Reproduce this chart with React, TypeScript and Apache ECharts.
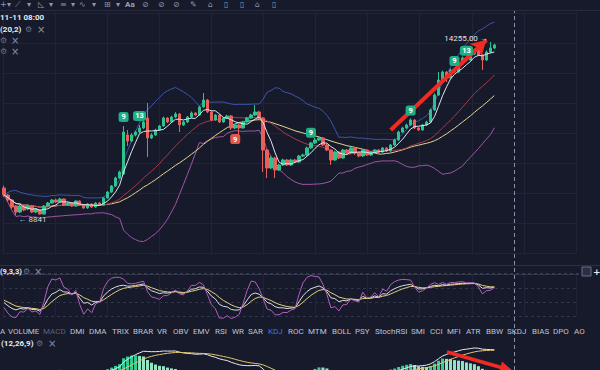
import React, { useEffect, useRef } from "react";
import * as echarts from "echarts";

// ---------- data ----------
const OPEN = [
  9686, 9467, 9310, 9122, 8934, 9122, 9028, 9122, 8934, 8997,
  8871, 9122, 9216, 9310, 9247, 9341, 9153, 9216, 9122, 9279,
  9153, 9059, 9184, 9091, 9216, 9153, 9372, 9560, 9748, 9999,
  10124, 11345, 11157, 11345, 11438, 11564, 11877, 11251, 11345, 11501,
  11626, 11877, 11752, 11908, 12002, 11658, 11752, 11908, 12033, 11970,
  12221, 12440, 12064, 11814, 11970, 11752, 11877, 11939, 11564, 11658,
  11564, 11752, 11877, 11970, 12064, 11877, 10875, 10312, 10625, 10249,
  10406, 10562, 10406, 10562, 10499, 10687, 10719, 10938, 11094, 11188,
  11251, 11031, 10875, 10562, 10813, 10625, 10875, 10781, 10938, 10781,
  10687, 10875, 10719, 10813, 10875, 10813, 10938, 10844, 11031, 11188,
  11438, 11564, 11658, 11814, 11564, 11501, 11658, 11752, 12127, 12596,
  13066, 13316, 13129, 13379, 13316, 13567, 13755, 13692, 13880, 14005,
  13849, 13692, 13942, 14068,
];
const CLOSE = [
  9467, 9310, 9091, 8934, 9122, 8997, 9122, 8934, 9028, 8871,
  9122, 9216, 9310, 9247, 9341, 9153, 9216, 9122, 9279, 9153,
  9059, 9184, 9091, 9216, 9153, 9372, 9560, 9748, 9999, 10186,
  11438, 11157, 11345, 11438, 11564, 11752, 11251, 11345, 11501, 11626,
  11877, 11752, 11908, 12002, 11658, 11752, 11908, 12033, 11970, 12221,
  12440, 12064, 11814, 11970, 11752, 11877, 11939, 11564, 11658, 11564,
  11752, 11877, 11970, 12064, 11877, 10875, 10312, 10625, 10249, 10406,
  10562, 10406, 10562, 10499, 10687, 10719, 10938, 11094, 11188, 11251,
  11031, 10875, 10562, 10813, 10625, 10875, 10781, 10938, 10781, 10687,
  10875, 10719, 10813, 10875, 10813, 10938, 10844, 11031, 11188, 11438,
  11564, 11658, 11814, 11564, 11501, 11658, 11752, 12127, 12596, 13066,
  13316, 13129, 13379, 13316, 13567, 13755, 13692, 13880, 14005, 13849,
  13692, 13942, 14068, 14162,
];
const LOW = [
  9400, 9250, 9040, 8841, 8900, 8960, 8990, 8900, 8900, 8850,
  8860, 9100, 9190, 9220, 9230, 9120, 9130, 9100, 9100, 9130,
  9030, 9040, 9060, 9070, 9130, 9140, 9350, 9540, 9720, 9980,
  10090, 11000, 11120, 11300, 11400, 11530, 10656, 11220, 11320, 11480,
  11600, 11720, 11730, 11880, 11438, 11630, 11720, 11880, 11940, 11950,
  12200, 12030, 11780, 11790, 11720, 11730, 11850, 11500, 11530, 11345,
  11540, 11730, 11850, 11940, 11840, 10186, 9999, 10280, 9999, 10220,
  10380, 10380, 10380, 10470, 10470, 10660, 10700, 10910, 11060, 11160,
  11000, 10840, 10406, 10530, 10590, 10600, 10750, 10760, 10720, 10650,
  10660, 10690, 10690, 10790, 10780, 10790, 10810, 10820, 11000, 11160,
  11410, 11540, 11630, 11530, 11470, 11480, 11630, 11730, 12100, 12570,
  13030, 13003, 13100, 13280, 13290, 13540, 13650, 13670, 13850, 13810,
  13379, 13660, 13900, 14030,
];
const HIGH = [
  9760, 9500, 9340, 9150, 9160, 9150, 9170, 9140, 9060, 9020,
  9150, 9250, 9340, 9350, 9380, 9360, 9240, 9240, 9300, 9300,
  9180, 9210, 9200, 9240, 9250, 9400, 9590, 9780, 10040, 10230,
  11626, 11501, 11400, 11480, 11658, 11790, 12346, 11400, 11540, 11660,
  11920, 11900, 11950, 12060, 12030, 11790, 11940, 12080, 12060, 12260,
  12659, 12470, 12090, 12000, 12000, 11900, 11980, 11970, 11690, 11690,
  11790, 11910, 12010, 12283, 12100, 11900, 10900, 10680, 10660, 10440,
  10600, 10590, 10600, 10590, 10720, 10760, 10980, 11130, 11250, 11290,
  11280, 11060, 10900, 10850, 10840, 10910, 10900, 10990, 10960, 10800,
  10910, 10900, 10840, 10900, 10900, 10960, 10960, 11060, 11230, 11480,
  11600, 11700, 11860, 11840, 11590, 11690, 11790, 12170, 12650, 13316,
  13360, 13340, 13420, 13410, 13620, 13800, 13790, 13930, 14050, 14030,
  13870, 13990, 14255, 14200,
];

// TD-sequential style count labels
const TD_INDEX = [30, 34, 58, 77, 102, 113, 116];
const TD_TEXT = ["9", "13", "9", "9", "9", "9", "13"];
const TD_SIDE = ["up", "up", "down", "up", "up", "up", "up"];

const HIGH_LABEL = "14255.00 →";
const LOW_LABEL = "← 8841";
const HIGH_INDEX = 122;
const LOW_INDEX = 3;

// hand-drawn trend arrow: [index, price] -> [index, price]
const ARROW_FROM = [97, 11501];
const ARROW_TO = [121, 14318];

const TAB_NAMES = [
  "A", "VOLUME", "MACD", "DMI", "DMA", "TRIX", "BRAR", "VR", "OBV", "EMV", "RSI",
  "WR", "SAR", "KDJ", "ROC", "MTM", "BOLL", "PSY", "StochRSI", "SMI", "CCI",
  "MFI", "ATR", "BBW", "SKDJ", "BIAS", "DPO", "AO",
];

const CATEGORY_COUNT = 150;
const NOW_INDEX = 128;

// ---------- layout constants ----------
const TAB_X = [
  0, 8, 43, 70, 89, 112, 133, 157, 173, 193, 215, 232, 248, 268, 288, 308, 332,
  355, 375, 411, 430, 447, 466, 486, 507, 532, 553, 574,
];
const TD_OFFSET = [-9, -9, 10, -9, -8, -8, -6];

// ---------- indicator helpers ----------
function sma(arr: number[], n: number) {
  return arr.map((_, i) => {
    const w = arr.slice(Math.max(0, i - n + 1), i + 1);
    return w.reduce((a, b) => a + b, 0) / w.length;
  });
}
function boll(arr: number[], n: number, k: number) {
  const up: number[] = [];
  const lo: number[] = [];
  arr.forEach((_, i) => {
    const w = arr.slice(Math.max(0, i - n + 1), i + 1);
    const m = w.reduce((a, b) => a + b, 0) / w.length;
    const sd = Math.sqrt(w.reduce((a, b) => a + (b - m) * (b - m), 0) / w.length);
    up.push(m + k * sd);
    lo.push(m - k * sd);
  });
  return { up, lo };
}
function ema(arr: number[], n: number) {
  const a = 2 / (n + 1);
  const out: number[] = [];
  arr.forEach((v, i) => out.push(i === 0 ? v : out[i - 1] + a * (v - out[i - 1])));
  return out;
}

export default function App() {
  const ref = useRef<HTMLDivElement>(null);

  useEffect(() => {
    if (!ref.current) return;
    const chart = echarts.init(ref.current, undefined, { renderer: "svg" });

    const cats = Array.from({ length: CATEGORY_COUNT }, (_, i) => String(i));
    const candles = OPEN.map((o, i) => [o, CLOSE[i], LOW[i], HIGH[i]]);
    const ma5 = sma(CLOSE, 5);
    const ma20 = sma(CLOSE, 20);
    const ma30 = sma(CLOSE, 30);
    const bb = boll(CLOSE, 20, 2);

    // KDJ(9,3,3)
    const kArr: number[] = [];
    const dArr: number[] = [];
    const jArr: number[] = [];
    let K = 50;
    let D = 50;
    CLOSE.forEach((c, i) => {
      const s = Math.max(0, i - 8);
      const hh = Math.max(...HIGH.slice(s, i + 1));
      const ll = Math.min(...LOW.slice(s, i + 1));
      const rsv = hh === ll ? 50 : ((c - ll) / (hh - ll)) * 100;
      K = (2 * K + rsv) / 3;
      D = (2 * D + K) / 3;
      kArr.push(K);
      dArr.push(D);
      jArr.push(3 * K - 2 * D);
    });

    // MACD(12,26,9)
    const e12 = ema(CLOSE, 12);
    const e26 = ema(CLOSE, 26);
    const dif = e12.map((v, i) => v - e26[i]);
    const dea = ema(dif, 9);
    const hist = dif.map((v, i) => 2 * (v - dea[i]));
    const maxDif = Math.max(...dif);
    // the panel is cut by the window: only the upper part of the range shows
    const macdMax = maxDif * 1.333;
    const macdMin = maxDif * 0.0833;

    const UP = "#2fc28f";
    const DOWN = "#e8605c";
    const GRID_LINE = "#1f2438";

    const tdPoints = TD_INDEX.map((idx, k) => {
      const up = TD_SIDE[k] === "up";
      return {
        coord: [idx, up ? HIGH[idx] : LOW[idx]],
        symbol: "roundRect",
        symbolSize: [TD_TEXT[k].length > 1 ? 13 : 10, 10],
        symbolOffset: [0, TD_OFFSET[k]],
        itemStyle: { color: up ? "#1fae86" : "#e0574f" },
        label: {
          show: true,
          position: "inside",
          formatter: TD_TEXT[k],
          color: "#ffffff",
          fontSize: 7.5,
          fontWeight: "bold",
        },
      };
    });

    const hiddenCat = (gridIndex: number) => ({
      type: "category",
      gridIndex,
      data: cats,
      show: false,
      boundaryGap: true,
    });
    const bgAxis = (gridIndex: number, max: number, dashed: boolean) => ({
      type: "value",
      gridIndex,
      min: 0,
      max,
      interval: 1,
      axisLine: { show: false },
      axisTick: { show: false },
      axisLabel: { show: false },
      splitLine: {
        show: true,
        lineStyle: dashed
          ? { color: "#30354b", type: [3, 3], width: 1 }
          : { color: GRID_LINE, width: 1 },
      },
    });

    const txt = (x: number, y: number, text: string, fill: string, font: string, z = 50) => ({
      type: "text",
      x,
      y,
      z,
      silent: true,
      style: { text, fill, font, verticalAlign: "middle" },
    });

    const ICON = "8px 'DejaVu Sans'";
    const toolbar: [number, string][] = [
      [0, "+"], [7, "▾"], [15, "⟋"], [27, "▾"], [38, "◺"], [49, "▾"], [60, "≡"],
      [71, "▾"], [79, "∿"], [92, "▾"], [104, "⊞"], [116, "▾"], [142, "⊘"],
      [158, "⊘"], [173, "⊘"], [190, "✎"], [208, "⌂"], [224, "▯"], [240, "▯"],
      [255, "⌂"], [272, "▯"],
    ];

    const graphics: any[] = [
      ...toolbar.map(([x, t]) => txt(x, 4.5, t, "#9096ab", ICON)),
      txt(125, 4.5, "Aa", "#9da3b7", "bold 8px Roboto"),
      { type: "line", z: 1, silent: true, shape: { x1: 0, y1: 10.5, x2: 600, y2: 10.5 }, style: { stroke: "#262b40", lineWidth: 1 } },
      txt(0, 17, "11-11 08:00", "#e8eaf0", "bold 8px Roboto"),
      txt(0, 29, "(20,2)", "#e8eaf0", "bold 8px Roboto"),
      txt(25, 29, "⚙", "#6c7288", ICON),
      txt(37, 29, "×", "#8a90a4", "10px 'DejaVu Sans'"),
      txt(0, 40, "⚙", "#6c7288", ICON),
      txt(11, 40, "×", "#8a90a4", "10px 'DejaVu Sans'"),
      txt(0, 51, "⚙", "#6c7288", ICON),
      txt(11, 51, "×", "#8a90a4", "10px 'DejaVu Sans'"),
      // KDJ panel
      { type: "line", z: 1, silent: true, shape: { x1: 0, y1: 265.5, x2: 600, y2: 265.5 }, style: { stroke: "#2b3046", lineWidth: 1 } },
      { type: "line", z: 1, silent: true, shape: { x1: 0, y1: 274, x2: 582, y2: 274 }, style: { stroke: "#555b73", lineWidth: 1, lineDash: [3, 3] } },
      txt(0, 271, "(9,3,3)", "#e8eaf0", "bold 7.5px Roboto"),
      txt(23, 271, "⚙", "#6c7288", ICON),
      txt(34, 271, "×", "#8a90a4", "10px 'DejaVu Sans'"),
      { type: "rect", z: 50, silent: true, shape: { x: 582, y: 267, width: 9, height: 9 }, style: { fill: "#2a2f44", stroke: "#6a7088", lineWidth: 1 } },
      txt(593, 272, "+", "#e8eaf0", "bold 9px 'DejaVu Sans'"),
      // indicator tabs
      ...TAB_NAMES.map((n, k) =>
        txt(
          TAB_X[k],
          331,
          n,
          n === "KDJ" ? "#3b7ddd" : n === "MACD" ? "#5c6277" : "#bfc3d0",
          "8px Roboto"
        )
      ),
      // MACD label
      txt(1, 343, "(12,26,9)", "#e8eaf0", "bold 8px Roboto"),
      txt(36, 343, "⚙", "#6c7288", ICON),
      txt(48, 343, "×", "#8a90a4", "10px 'DejaVu Sans'"),
      // hand-drawn arrow in MACD panel
      { type: "line", z: 100, silent: true, shape: { x1: 447, y1: 352, x2: 503, y2: 368 }, style: { stroke: "#ee2b24", lineWidth: 3.5 } },
      { type: "polygon", z: 100, silent: true, shape: { points: [[513, 371], [502, 361.5], [499, 374]] }, style: { fill: "#ee2b24" } },
    ];

    const lineS = (name: string, xi: number, data: number[], color: string, z = 3) => ({
      type: "line",
      name,
      xAxisIndex: xi,
      yAxisIndex: xi,
      data,
      symbol: "none",
      showSymbol: false,
      silent: true,
      z,
      lineStyle: { color, width: 1 },
    });

    const option: any = {
      animation: false,
      backgroundColor: "#161a2b",
      textStyle: { fontFamily: "Roboto" },
      grid: [
        { left: 3, top: 13, width: 573, height: 240 },
        { left: 2, top: 10, width: 600, height: 252 },
        { left: 2, top: 268, width: 600, height: 62 },
        { left: 3, top: 274, width: 573, height: 42 },
        { left: 2, top: 340, width: 600, height: 30 },
        { left: 2, top: 11, width: 600, height: 359 },
      ],
      xAxis: [
        bgAxis(0, 11, false),
        hiddenCat(1),
        hiddenCat(2),
        bgAxis(3, 11, false),
        hiddenCat(4),
        hiddenCat(5),
      ],
      yAxis: [
        bgAxis(0, 8, false),
        { type: "value", gridIndex: 1, min: 7370, max: 15256, show: false, splitLine: { show: false } },
        { type: "value", gridIndex: 2, min: -40, max: 140, show: false, splitLine: { show: false } },
        bgAxis(3, 3, true),
        { type: "value", gridIndex: 4, min: macdMin, max: macdMax, show: false, splitLine: { show: false } },
        { type: "value", gridIndex: 5, min: 0, max: 1, show: false, splitLine: { show: false } },
      ],
      series: [
        { type: "line", xAxisIndex: 0, yAxisIndex: 0, data: [], silent: true },
        { type: "line", xAxisIndex: 3, yAxisIndex: 3, data: [], silent: true },
        lineS("BOLL UP", 1, bb.up, "#3c58a6", 2),
        lineS("BOLL DN", 1, bb.lo, "#a056a8", 2),
        lineS("MA30", 1, ma30, "#e5d58a", 2),
        lineS("MA20", 1, ma20, "#a83a4c", 2),
        {
          type: "candlestick",
          name: "K",
          xAxisIndex: 1,
          yAxisIndex: 1,
          data: candles,
          barWidth: 3,
          z: 4,
          silent: true,
          itemStyle: { color: UP, color0: DOWN, borderColor: UP, borderColor0: DOWN, borderWidth: 1 },
          markPoint: {
            silent: true,
            data: [
              ...tdPoints,
              {
                coord: [HIGH_INDEX, HIGH[HIGH_INDEX]],
                symbol: "circle",
                symbolSize: 1,
                itemStyle: { color: "rgba(0,0,0,0)" },
                label: { show: true, position: "left", distance: 2, offset: [0, -3], formatter: HIGH_LABEL, color: "#e0e3ec", fontSize: 8 },
              },
              {
                coord: [LOW_INDEX, LOW[LOW_INDEX]],
                symbol: "circle",
                symbolSize: 1,
                itemStyle: { color: "rgba(0,0,0,0)" },
                label: { show: true, position: "right", distance: 2, offset: [0, 5], formatter: LOW_LABEL, color: "#d0d4de", fontSize: 8 },
              },
            ],
          },
        },
        lineS("MA5", 1, ma5, "#dfe3f0", 5),
        {
          type: "line",
          xAxisIndex: 1,
          yAxisIndex: 1,
          data: [],
          silent: true,
          z: 10,
          markLine: {
            silent: true,
            symbol: ["none", "arrow"],
            symbolSize: [13, 15],
            label: { show: false },
            lineStyle: { color: "#ee2b24", width: 4, type: "solid" },
            data: [[{ coord: ARROW_FROM }, { coord: ARROW_TO }]],
          },
        },
        lineS("K", 2, kArr, "#dcdce6", 3),
        lineS("D", 2, dArr, "#e6cf7e", 3),
        lineS("J", 2, jArr, "#b45fc0", 3),
        {
          type: "bar",
          name: "MACD",
          xAxisIndex: 4,
          yAxisIndex: 4,
          barWidth: 3,
          silent: true,
          data: hist.map((v, i) => ({
            value: v,
            itemStyle: {
              color:
                v >= 0
                  ? i > 0 && v < hist[i - 1]
                    ? "#8fe6c4"
                    : "#2fd196"
                  : i > 0 && v > hist[i - 1]
                  ? "#c0504d"
                  : DOWN,
            },
          })),
        },
        lineS("DIF", 4, dif, "#e8e8f0", 4),
        lineS("DEA", 4, dea, "#e3c46e", 4),
        {
          type: "line",
          xAxisIndex: 5,
          yAxisIndex: 5,
          data: [],
          silent: true,
          markLine: {
            silent: true,
            symbol: ["none", "none"],
            label: { show: false },
            lineStyle: { color: "#8b91a8", width: 1, type: [4, 3] },
            data: [{ xAxis: NOW_INDEX }],
          },
        },
      ],
      graphic: graphics,
    };

    chart.setOption(option);
    return () => chart.dispose();
  }, []);

  return (
    <div
      ref={ref}
      style={{ position: "fixed", left: 0, top: 0, width: 600, height: 370 }}
    />
  );
}
